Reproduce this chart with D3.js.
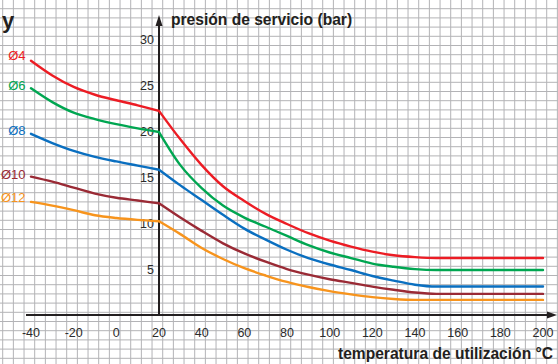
<!DOCTYPE html>
<html>
<head>
<meta charset="utf-8">
<script src="https://cdn.jsdelivr.net/npm/d3@7"></script>
<style>
  html, body { margin: 0; padding: 0; background: #fff; }
  svg { display: block; font-family: "Liberation Sans", Arial, Helvetica, sans-serif; }
</style>
</head>
<body>
<svg id="chart" width="558" height="364"></svg>
<script>
// Working temperature (°C) at which each pressure value is given
const temps = [-40, -30, -20, -10, 0, 10, 20, 30, 40, 50, 60, 70, 80, 90, 100, 110, 120, 130, 140, 150, 200];

// Service pressure (bar) per tube diameter
const p4  = [27.75, 26.15, 24.9, 24.05, 23.45, 22.9, 22.3, 19.2, 16.4, 14.1, 12.5, 11.1, 10.0, 9.0, 8.2, 7.55, 7.0, 6.6, 6.4, 6.3, 6.3];
const p6  = [24.75, 23.25, 22.1, 21.4, 20.85, 20.4, 20.0, 16.4, 13.9, 12.0, 10.7, 9.7, 8.7, 7.7, 6.9, 6.3, 5.7, 5.35, 5.1, 5.0, 5.0];
const p8  = [19.8, 18.8, 17.95, 17.3, 16.8, 16.35, 15.9, 14.2, 12.6, 11.0, 9.5, 8.3, 7.2, 6.3, 5.6, 5.0, 4.35, 3.85, 3.4, 3.2, 3.2];
const p10 = [15.15, 14.6, 13.95, 13.3, 12.85, 12.55, 12.25, 10.7, 9.25, 7.9, 6.8, 5.9, 5.1, 4.5, 4.0, 3.6, 3.2, 2.85, 2.55, 2.4, 2.4];
const p12 = [12.4, 12.0, 11.5, 10.95, 10.65, 10.45, 10.3, 8.9, 7.4, 6.2, 5.2, 4.4, 3.7, 3.15, 2.7, 2.35, 2.05, 1.85, 1.75, 1.75, 1.75];

const seriesNames = ["Ø4", "Ø6", "Ø8", "Ø10", "Ø12"];
const seriesValues = [p4, p6, p8, p10, p12];

// Axis tick labels
const xTicks = [-40, -20, 0, 20, 40, 60, 80, 100, 120, 140, 160, 180, 200];
const yTicks = [5, 10, 15, 20, 25, 30];

// Temperature where the curves change regime
const breakTemp = 20;

const colors = ["#ec1c24", "#00a651", "#0a6fc0", "#9a2a35", "#f7941d"];
const labelY = [55, 85, 130, 174, 197];

const W = 558, H = 364;
const svg = d3.select("#chart");

const x = d3.scaleLinear().domain([-40, 200]).range([31, 543]);
const y = d3.scaleLinear().domain([0, 30]).range([316, 40]);

// Graph-paper background
const grid = svg.append("g").attr("stroke", "#b3b3b6").attr("stroke-width", 1);
d3.range(2.7, W, 10.667).forEach(gx => {
  grid.append("line").attr("x1", gx).attr("x2", gx).attr("y1", 0).attr("y2", H);
});
d3.range(-0.5, H, 9.2).forEach(gy => {
  grid.append("line").attr("x1", 0).attr("x2", W).attr("y1", gy).attr("y2", gy);
});

// Axes
const axisColor = "#231f20";
const axX = x(breakTemp);
svg.append("line")
  .attr("x1", 26).attr("x2", 550).attr("y1", y(0) - 1).attr("y2", y(0) - 1)
  .attr("stroke", axisColor).attr("stroke-width", 2);
svg.append("path")
  .attr("d", `M557,${y(0) - 1} L547,${y(0) - 4.5} L547,${y(0) + 2.5} Z`)
  .attr("fill", axisColor);
svg.append("line")
  .attr("x1", axX).attr("x2", axX).attr("y1", y(0)).attr("y2", 24)
  .attr("stroke", axisColor).attr("stroke-width", 2);
svg.append("path")
  .attr("d", `M${axX},15 L${axX - 3.5},26 L${axX + 3.5},26 Z`)
  .attr("fill", axisColor);

// Tick labels
svg.append("g").selectAll("text").data(xTicks).join("text")
  .attr("x", d => x(d)).attr("y", 333)
  .attr("text-anchor", "middle").attr("dominant-baseline", "central")
  .attr("font-size", 12.5).attr("fill", "#2b2b2b")
  .text(d => d);
svg.append("g").selectAll("text").data(yTicks).join("text")
  .attr("x", axX - 5).attr("y", d => y(d))
  .attr("text-anchor", "end").attr("dominant-baseline", "central")
  .attr("font-size", 12.5).attr("fill", "#2b2b2b")
  .text(d => d);

// Axis titles
svg.append("text").attr("x", 2).attr("y", 28)
  .attr("font-size", 22).attr("font-weight", "bold").attr("fill", "#231f20")
  .text("y");
svg.append("text").attr("x", 171).attr("y", 25)
  .attr("font-size", 15.6).attr("font-weight", "bold").attr("fill", "#231f20")
  .text("presión de servicio (bar)");
svg.append("text").attr("x", 553).attr("y", 359)
  .attr("text-anchor", "end")
  .attr("font-size", 15.6).attr("font-weight", "bold").attr("fill", "#231f20")
  .text("temperatura de utilización °C");

// Curves: drawn as two smooth pieces joined with a sharp corner at the break temperature
const line = d3.line()
  .x(d => x(d[0])).y(d => y(d[1]))
  .curve(d3.curveMonotoneX);

seriesValues.forEach((vals, i) => {
  const pts = temps.map((t, k) => [t, vals[k]]);
  const left = pts.filter(p => p[0] <= breakTemp);
  const right = pts.filter(p => p[0] >= breakTemp);
  svg.append("path")
    .attr("d", line(left) + line(right))
    .attr("fill", "none")
    .attr("stroke", colors[i])
    .attr("stroke-width", 2.4)
    .attr("stroke-linejoin", "round")
    .attr("stroke-linecap", "round");
  svg.append("text")
    .attr("x", 25.5).attr("y", labelY[i])
    .attr("text-anchor", "end").attr("dominant-baseline", "central")
    .attr("font-size", 13).attr("fill", colors[i])
    .text(seriesNames[i]);
});
</script>
</body>
</html>
